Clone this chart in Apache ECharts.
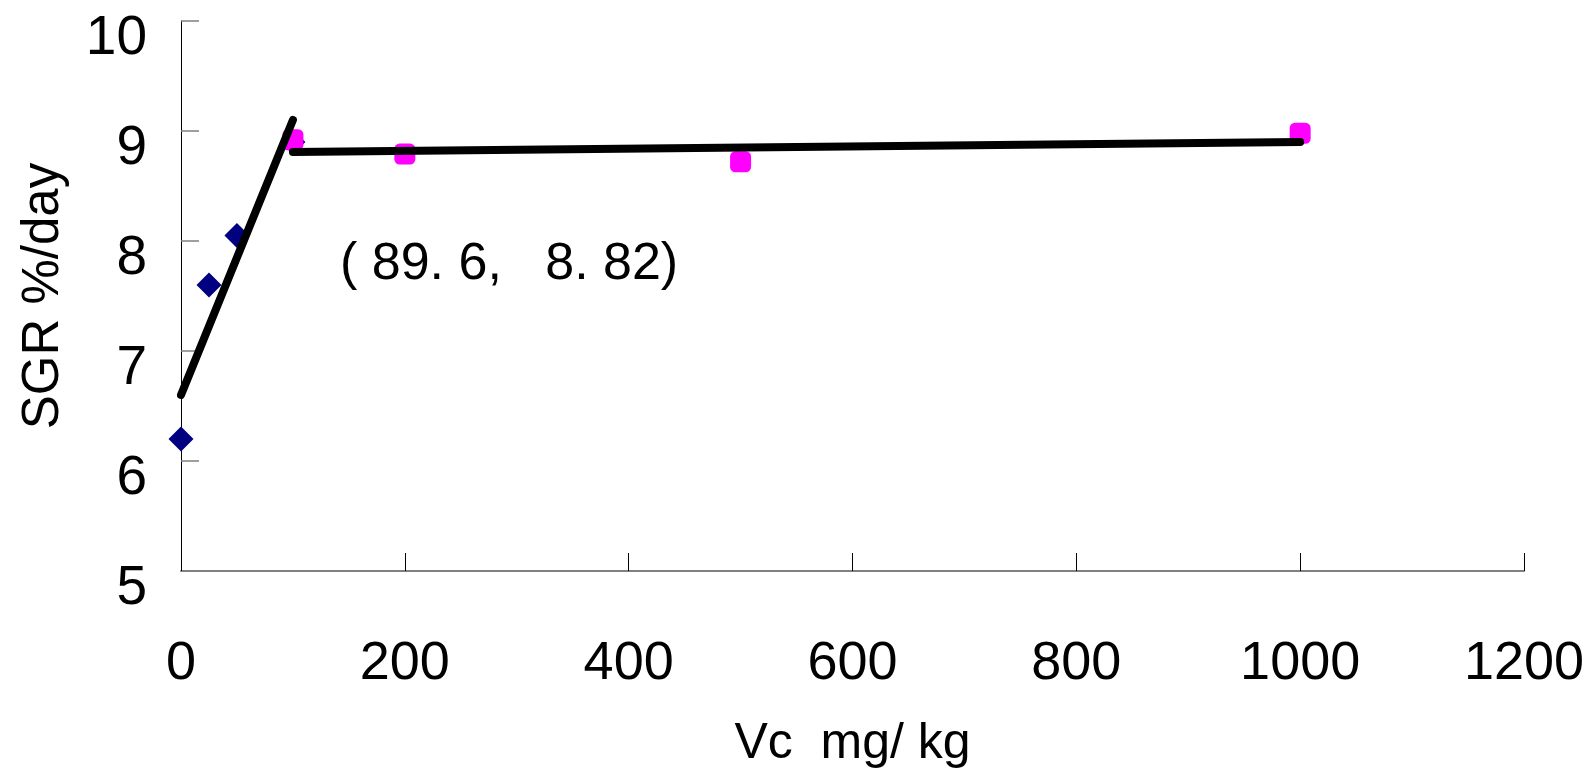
<!DOCTYPE html>
<html>
<head>
<meta charset="utf-8">
<script src="https://cdn.jsdelivr.net/npm/echarts@6/dist/echarts.min.js"></script>
<style>
  html, body { margin: 0; padding: 0; background: #fff; }
  #chart { width: 1593px; height: 770px; }
</style>
</head>
<body>
<div id="chart"></div>
<script>
// Vitamin C dose (mg/kg) vs specific growth rate (%/day)
const lowDose = [[0, 6.2], [25, 7.6], [50, 8.05], [100, 8.9]];
const highDose = [[100, 8.92], [200, 8.79], [500, 8.72], [1000, 8.98]];
// Broken-line regression segments
const fitRising = [[0, 6.6], [100, 9.1]];
const fitPlateau = [[100, 8.81], [1000, 8.9]];
// Breakpoint of the broken-line model
const breakpoint = [89.6, 8.82];
const xTicks = [0, 200, 400, 600, 800, 1000, 1200];
const yTicks = [5, 6, 7, 8, 9, 10];

function spaced(v) {
  // write decimals as "89. 6"
  return String(v).replace('.', '. ');
}

const chart = echarts.init(document.getElementById('chart'));
const sans = '"Liberation Sans", Arial, sans-serif';

chart.setOption({
  backgroundColor: '#fff',
  animation: false,
  grid: { left: 181, right: 69, top: 21, bottom: 199, outerBoundsMode: 'none', containLabel: false },
  xAxis: {
    type: 'value',
    min: xTicks[0], max: xTicks[xTicks.length - 1], interval: 200,
    name: 'Vc  mg/ kg',
    nameLocation: 'middle',
    nameGap: 148,
    nameTextStyle: { fontFamily: sans, fontSize: 50, color: '#000' },
    axisLine: { show: true, onZero: false, lineStyle: { color: '#808080', width: 2 } },
    axisTick: { show: true, inside: true, length: 18, lineStyle: { color: '#000', width: 1 } },
    axisLabel: {
      fontFamily: sans, fontSize: 54, color: '#000', margin: 66,
      formatter: v => String(v)
    },
    splitLine: { show: false }
  },
  yAxis: {
    type: 'value',
    min: yTicks[0], max: yTicks[yTicks.length - 1], interval: 1,
    name: 'SGR %/day',
    nameLocation: 'middle',
    nameRotate: 90,
    nameGap: 112,
    nameTextStyle: { fontFamily: sans, fontSize: 51, color: '#000' },
    axisLine: { show: true, onZero: false, lineStyle: { color: '#000', width: 1 } },
    axisTick: { show: true, inside: true, length: 18, lineStyle: { color: '#808080', width: 1.5 } },
    axisLabel: {
      fontFamily: sans, fontSize: 55, color: '#000', margin: 34,
      verticalAlign: 'top', lineHeight: 36,
      formatter: v => String(v)
    },
    splitLine: { show: false }
  },
  graphic: [{
    type: 'text',
    left: 340,
    top: 239,
    style: {
      text: '( ' + spaced(breakpoint[0]) + ',   ' + spaced(breakpoint[1]) + ')',
      font: '52px ' + sans,
      fill: '#000'
    }
  }],
  series: [
    {
      type: 'scatter', data: lowDose, symbol: 'diamond', symbolSize: 25,
      itemStyle: { color: '#000080', opacity: 1 }, z: 2
    },
    {
      type: 'scatter', data: highDose, symbol: 'roundRect', symbolSize: 21,
      itemStyle: { color: '#FF00FF', opacity: 1 }, z: 3
    },
    {
      type: 'line', data: fitRising, symbol: 'none', z: 4,
      lineStyle: { color: '#000', width: 8, cap: 'round' }
    },
    {
      type: 'line', data: fitPlateau, symbol: 'none', z: 4,
      lineStyle: { color: '#000', width: 8, cap: 'round' }
    }
  ]
});
</script>
</body>
</html>
